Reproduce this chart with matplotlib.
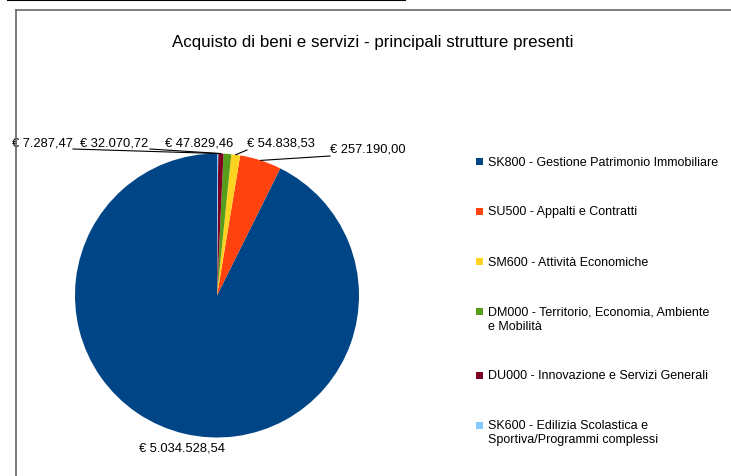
import matplotlib
matplotlib.use("Agg")
import matplotlib.pyplot as plt
import numpy as np
from matplotlib.patches import Rectangle
from matplotlib.lines import Line2D

plt.rcParams['font.family'] = ['Liberation Sans', 'DejaVu Sans']

categories = [
    "SK800 - Gestione Patrimonio Immobiliare",
    "SU500 - Appalti e Contratti",
    "SM600 - Attività Economiche",
    "DM000 - Territorio, Economia, Ambiente\ne Mobilità",
    "DU000 - Innovazione e Servizi Generali",
    "SK600 - Edilizia Scolastica e\nSportiva/Programmi complessi",
]
values = [5034528.54, 257190.00, 54838.53, 47829.46, 32070.72, 7287.47]
value_labels = ["€ 5.034.528,54", "€ 257.190,00", "€ 54.838,53",
                "€ 47.829,46", "€ 32.070,72", "€ 7.287,47"]
colors = ["#004586", "#ff420e", "#ffd320", "#579d1c", "#7e0021", "#83caff"]
title = "Acquisto di beni e servizi - principali strutture presenti"

W, H = 731, 477
fig = plt.figure(figsize=(W / 100, H / 100), dpi=100)
ax = fig.add_axes([0, 0, 1, 1])

cx, cy, r = 217, H - 296.5, 142
wedges, _ = ax.pie(values, colors=colors, startangle=90, counterclock=True,
                   center=(cx, cy), radius=r, frame=True,
                   wedgeprops=dict(linewidth=0))
ax.set_xlim(0, W)
ax.set_ylim(0, H)
ax.set_aspect('equal')
ax.axis('off')

# value labels (pixel coords from top-left)
label_pos = [(139, 449), (330, 150), (247, 143), (165, 143), (80, 143), (12, 143)]
line_start = [None, (330, 157), (247, 151), None, (150, 150), (73, 150)]
for i, w in enumerate(wedges):
    x, y = label_pos[i]
    ax.text(x, H - y, value_labels[i], fontsize=9.3, ha='left', va='center', color='black')
    if line_start[i] is not None:
        ang = np.deg2rad((w.theta1 + w.theta2) / 2)
        ex, ey = cx + r * np.cos(ang), cy + r * np.sin(ang)
        sx, sy = line_start[i]
        ax.plot([sx, ex], [H - sy, ey], color='black', lw=0.8)

fig.text(372.5 / W, 1 - 43 / H, title, fontsize=12.2, ha='center', va='center')

# legend, drawn by hand so the marker aligns with the first text line
lx, ly = 476, 162.5
row_gap, line_gap, sq = 50, 14, 7
for cat, c in zip(categories, colors):
    lines = cat.split("\n")
    ax.add_patch(Rectangle((lx, H - ly - sq / 2), sq, sq, facecolor=c, edgecolor='none'))
    for k, t in enumerate(lines):
        ax.text(lx + 12, H - (ly + k * line_gap), t, fontsize=9, ha='left', va='center')
    ly += row_gap + (len(lines) - 1) * line_gap

# frame lines
fig.add_artist(Line2D([8 / W, 405 / W], [1 - 1 / H, 1 - 1 / H], color='black', lw=1.5))
fig.add_artist(Line2D([16 / W, 1], [1 - 11 / H, 1 - 11 / H], color='#666666', lw=1.2))
fig.add_artist(Line2D([16 / W, 16 / W], [0, 1 - 11 / H], color='#666666', lw=1.2))

fig.savefig("out.png", dpi=100)
